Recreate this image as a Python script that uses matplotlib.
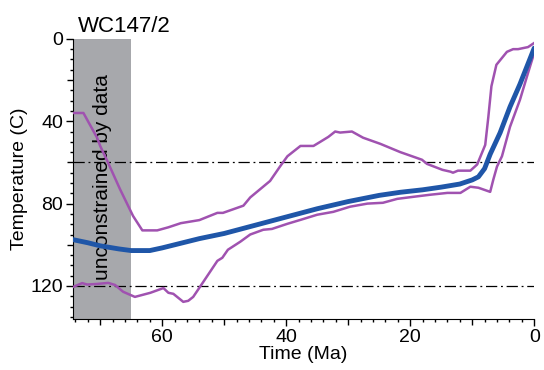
"""WC147/2 thermal history: time-temperature path with envelope"""
import numpy as np
from matplotlib import pyplot as plt
from matplotlib.ticker import MultipleLocator

plt.rcParams['font.family'] = ['Liberation Sans', 'DejaVu Sans']

# best-fit path
best_t = [74.4, 72, 70, 67, 65, 62, 60, 58, 54, 50, 45, 40, 35, 30, 25, 21.6,
          18, 15, 12, 10, 9, 8, 7.1, 5.5, 3.9, 2.3, 0]
best_T = [97.5, 99, 100.5, 102, 102.8, 102.8, 101.5, 100, 97, 94.5, 90.5, 86.5, 82.5,
          79, 76, 74.5, 73.3, 72, 70.5, 68.5, 67, 63, 56, 45.6, 33, 22, 4.5]

# cool envelope
upper_t = [74.4, 72.7, 70.5, 70, 68.9, 66.8, 64.7, 63.2, 60.8, 59, 57, 54, 51.1, 50.2,
           46.9, 45.8, 44.2, 42.6, 41, 39.8, 37.7, 35.6, 34.5, 33.2, 32.1, 31.3, 29.4,
           27.6, 24.8, 21.6, 18.1, 17.3, 14.8, 13.5, 13.1, 12.3, 10.3, 9.2, 7.9, 7.4,
           6.9, 6.1, 4.4, 3.4, 2.6, 1.8, 1, 0]
upper_T = [36, 36, 48, 52, 59, 73, 86, 93, 93, 91.5, 89.5, 88, 84.5, 84.5, 81, 77, 73,
           69, 62, 57, 52, 52, 50, 47.6, 45, 45.5, 45, 48, 51, 55, 58.7, 60.7, 63.6,
           64.5, 65, 64, 64, 61, 51.5, 38, 23, 12.6, 6.3, 5, 5, 4.5, 4, 2]

# hot envelope
lower_t = [74.4, 72.9, 72.1, 70.5, 68.7, 67.6, 66.3, 64.4, 61.9, 59.8, 59, 58.2, 56.6,
           55.8, 55, 53.9, 51.1, 50.3, 49.4, 47.4, 45.8, 43.7, 42.3, 39.8, 37.7, 35,
           32.4, 29.7, 26.9, 24.4, 22.1, 19.5, 16.8, 14, 11.9, 10.3, 9, 7.1, 6.6, 6,
           5.2, 3.9, 2.3, 1, 0]
lower_T = [120.5, 118.6, 119.3, 119, 118.5, 119.5, 122.8, 125.3, 123.3, 121, 123.3,
           123.8, 127.7, 127.2, 125.3, 120.4, 107.8, 106.3, 102.4, 98.5, 95, 92.7, 92.3,
           89.8, 87.9, 85.4, 84, 81.5, 80, 79.6, 77.7, 76.7, 75.7, 74.8, 74.8, 71.8,
           72.3, 74.3, 68.4, 62, 57, 42.7, 29.6, 16.6, 6.8]

unconstrained = (74.4, 65)
ref_lines = [60, 120]


def _mid_ticks(axis, step, length):
    """Lengthen the minor ticks that fall halfway between labels"""
    for loc, tick in zip(axis.get_minorticklocs(), axis.get_minor_ticks()):
        if abs(loc / step - round(loc / step)) < 1e-6:
            tick.tick1line.set_markersize(length)


def plot():
    fig = plt.figure(figsize=(5.44, 3.70), dpi=100)
    ax = fig.add_axes([0.134, 0.138, 0.848, 0.757])

    ax.axvspan(*unconstrained, color='#a7a8ac', lw=0, zorder=0)
    ax.text(69.6, 67, 'unconstrained by data', rotation=90,
            ha='center', va='center', fontsize=15, zorder=1)

    for T in ref_lines:
        ax.axhline(T, color='k', lw=0.9, ls=(0, (9, 3, 1.5, 3)), zorder=2)

    ax.plot(upper_t, upper_T, color='#a052b0', lw=1.8, zorder=3)
    ax.plot(lower_t, lower_T, color='#a052b0', lw=1.8, zorder=3)
    ax.plot(best_t, best_T, color='#1f56a8', lw=3.5, zorder=4, solid_capstyle='round')

    ax.set_xlim(74.4, 0)
    ax.set_ylim(136, 0)
    ax.xaxis.set_major_locator(MultipleLocator(20))
    ax.xaxis.set_minor_locator(MultipleLocator(2))
    ax.yaxis.set_major_locator(MultipleLocator(40))
    ax.yaxis.set_minor_locator(MultipleLocator(5))
    ax.tick_params(which='major', length=5, width=1, labelsize=14, pad=2)
    ax.tick_params(which='minor', length=2.5, width=1)
    _mid_ticks(ax.xaxis, 10, 4)
    _mid_ticks(ax.yaxis, 20, 4)
    for s in ('top', 'right'):
        ax.spines[s].set_visible(False)

    ax.set_xlabel('Time (Ma)', fontsize=14, labelpad=0)
    ax.set_ylabel('Temperature (C)', fontsize=14, labelpad=2)
    ax.set_title('WC147/2', fontsize=16, loc='left', x=0.01, pad=5)

    fig.savefig('out.png', dpi=100)


if __name__ == '__main__':
    plot()
